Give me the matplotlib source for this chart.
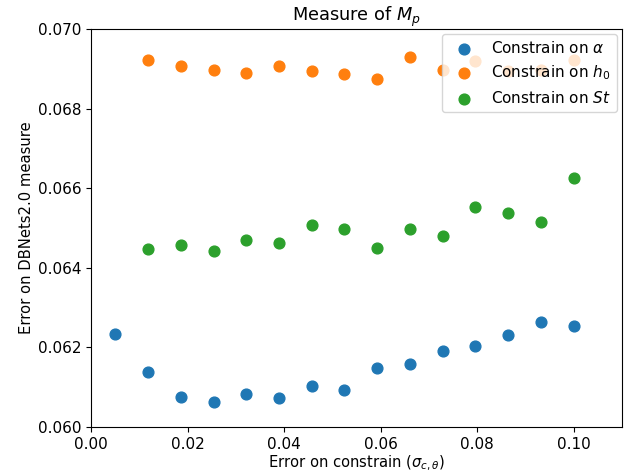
import matplotlib
matplotlib.use("Agg")
import matplotlib.pyplot as plt

# errore sul vincolo
x_alpha = [0.005, 0.0118, 0.0186, 0.0254, 0.0321, 0.0389, 0.0457, 0.0525,
           0.0593, 0.0661, 0.0729, 0.0796, 0.0864, 0.0932, 0.1000]
x_rest = x_alpha[1:]

y_alpha = [0.06234, 0.06137, 0.06076, 0.06062, 0.06084, 0.06074, 0.06103, 0.06092,
           0.06149, 0.06158, 0.06192, 0.06203, 0.06232, 0.06264, 0.06255]
y_h0 = [0.06921, 0.06906, 0.06897, 0.06889, 0.06908, 0.06895, 0.06886, 0.06875,
        0.06930, 0.06898, 0.06919, 0.06894, 0.06896, 0.06923]
y_st = [0.06446, 0.06457, 0.06441, 0.06471, 0.06462, 0.06507, 0.06498, 0.06451,
        0.06497, 0.06481, 0.06552, 0.06537, 0.06514, 0.06625]

fig = plt.figure(figsize=(6.32, 4.75), dpi=100)
ax = fig.add_subplot(111)
fig.subplots_adjust(left=0.144, right=0.984, top=0.939, bottom=0.101)

ax.scatter(x_alpha, y_alpha, s=60, label=r"Constrain on $\alpha$")
ax.scatter(x_rest, y_h0, s=60, label=r"Constrain on $h_0$")
ax.scatter(x_rest, y_st, s=60, label=r"Constrain on $St$")

ax.set_xlim(0, 0.11)
ax.set_ylim(0.060, 0.070)
ax.set_xticks([0.00, 0.02, 0.04, 0.06, 0.08, 0.10])
ax.tick_params(labelsize=11)
ax.set_title(r"Measure of $M_p$", fontsize=12.8)
ax.set_xlabel(r"Error on constrain ($\sigma_{c,\theta}$)", fontsize=10.6, labelpad=1.5)
ax.set_ylabel("Error on DBNets2.0 measure", fontsize=10.6, labelpad=2.5)
ax.legend(loc="upper right", fontsize=11, borderaxespad=0.3)

plt.savefig("out.png")
